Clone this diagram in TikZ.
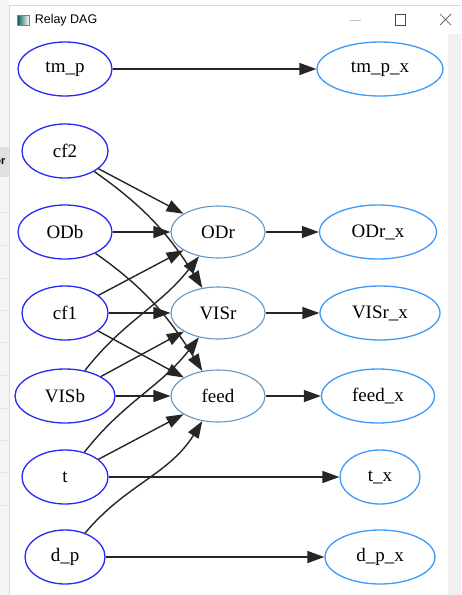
\documentclass[tikz,border=0pt]{standalone}
\usepackage{fontspec}
\setmainfont{Liberation Serif}
\newfontfamily\uifont{Liberation Sans}
\usepackage{tikz}
\usetikzlibrary{positioning}
\usetikzlibrary{shapes.geometric, arrows.meta}
\definecolor{srcblue}{RGB}{40,40,245}
\definecolor{midblue}{RGB}{95,150,200}
\definecolor{outblue}{RGB}{60,155,250}
\definecolor{wingray}{RGB}{240,240,240}
\tikzstyle{var} = [draw, ellipse, line width=1.3pt, minimum height=54pt, inner sep=0pt, font=\fontsize{19}{19}\selectfont]
\tikzstyle{src} = [var, draw=srcblue]
\tikzstyle{rel} = [var, draw=midblue, line width=1.1pt]
\tikzstyle{outv} = [var, draw=outblue]
\tikzstyle{line} = [draw, line width=1.4pt, black!85, -{Triangle[length=17pt,width=12pt]}]

\begin{document}
\begin{tikzpicture}[x=1pt,y=-1pt]
			\useasboundingbox (0,0) rectangle (461,595);
			% window behind
			\fill[wingray!70] (0,0) rectangle (9,595);
			\fill[black!12] (0,147) rectangle (9,177);
			\foreach \yy in {212,245,278,310,342,375,408,440,472,505} {
				\draw[black!10, line width=0.6pt] (0,\yy) -- (9,\yy);
			}
			\begin{scope}
				\clip (0,147) rectangle (9,177);
				\node[font=\bfseries\uifont\fontsize{11}{11}\selectfont, anchor=east] at (9,162) (bgtext) {or};
			\end{scope}
			% window frame and title bar
			\fill[white] (9,5) rectangle (461,595);
			\draw[black!15, line width=0.6pt] (9,595) -- (9,5) -- (461,5);
			\fill[wingray] (448,34) rectangle (461,595);
			\node[draw=black!50, left color=teal!70!black, right color=white, minimum width=12pt, minimum height=10pt, inner sep=0pt, line width=0.5pt] at (23,20) (icon) {};
			\node[font=\uifont\fontsize{12.5}{12.5}\selectfont, right=2pt of icon] (title) {Relay DAG};
			\draw[black!25, line width=0.7pt] (350,20) -- (361,20);
			\draw[black!70, line width=0.7pt] (395,14) rectangle (405,25);
			\draw[black!70, line width=0.7pt] (440,14) -- (451,25) (440,25) -- (451,14);

			% sources
			\node[src, minimum width=94pt] at (65,69) (tm_p) {tm\_p};
			\node[src, minimum width=86pt] at (65,151) (cf2) {cf2};
			\node[src, minimum width=94pt] at (65,232) (ODb) {ODb};
			\node[src, minimum width=86pt] at (65,313) (cf1) {cf1};
			\node[src, minimum width=100pt] at (65,396) (VISb) {VISb};
			\node[src, minimum width=86pt] at (65,477) (t) {t};
			\node[src, minimum width=80pt] at (65,557) (d_p) {d\_p};

			% relays
			\node[rel, minimum width=94pt, minimum height=52pt] at (218,232) (ODr) {ODr};
			\node[rel, minimum width=94pt, minimum height=52pt] at (218,313) (VISr) {VISr};
			\node[rel, minimum width=94pt, minimum height=52pt] at (218,396) (feed) {feed};

			% outputs
			\node[outv, minimum width=126pt] at (380,69) (tm_p_x) {tm\_p\_x};
			\node[outv, minimum width=117pt] at (378,232) (ODr_x) {ODr\_x};
			\node[outv, minimum width=120pt] at (380,313) (VISr_x) {VISr\_x};
			\node[outv, minimum width=113pt] at (378,396) (feed_x) {feed\_x};
			\node[outv, minimum width=80pt] at (380,477) (t_x) {t\_x};
			\node[outv, minimum width=110pt] at (380,557) (d_p_x) {d\_p\_x};

			% edges
			\path[line] (tm_p) -- (tm_p_x);
			\path[line] (cf2) -- (ODr);
			\path[line] (cf2) to[out=-35, in=122] (VISr);
			\path[line] (ODb) -- (ODr);
			\path[line] (ODb) to[out=-35, in=122] (feed);
			\path[line] (cf1) -- (ODr);
			\path[line] (cf1) -- (VISr);
			\path[line] (cf1) -- (feed);
			\path[line] (VISb) to[out=52, in=-128] (ODr);
			\path[line] (VISb) -- (VISr);
			\path[line] (VISb) -- (feed);
			\path[line] (t) to[out=52, in=-128] (VISr);
			\path[line] (t) -- (feed);
			\path[line] (t) -- (t_x);
			\path[line] (d_p) to[out=50, in=-122] (feed);
			\path[line] (d_p) -- (d_p_x);
			\path[line] (ODr) -- (ODr_x);
			\path[line] (VISr) -- (VISr_x);
			\path[line] (feed) -- (feed_x);

		\end{tikzpicture}
\end{document}
